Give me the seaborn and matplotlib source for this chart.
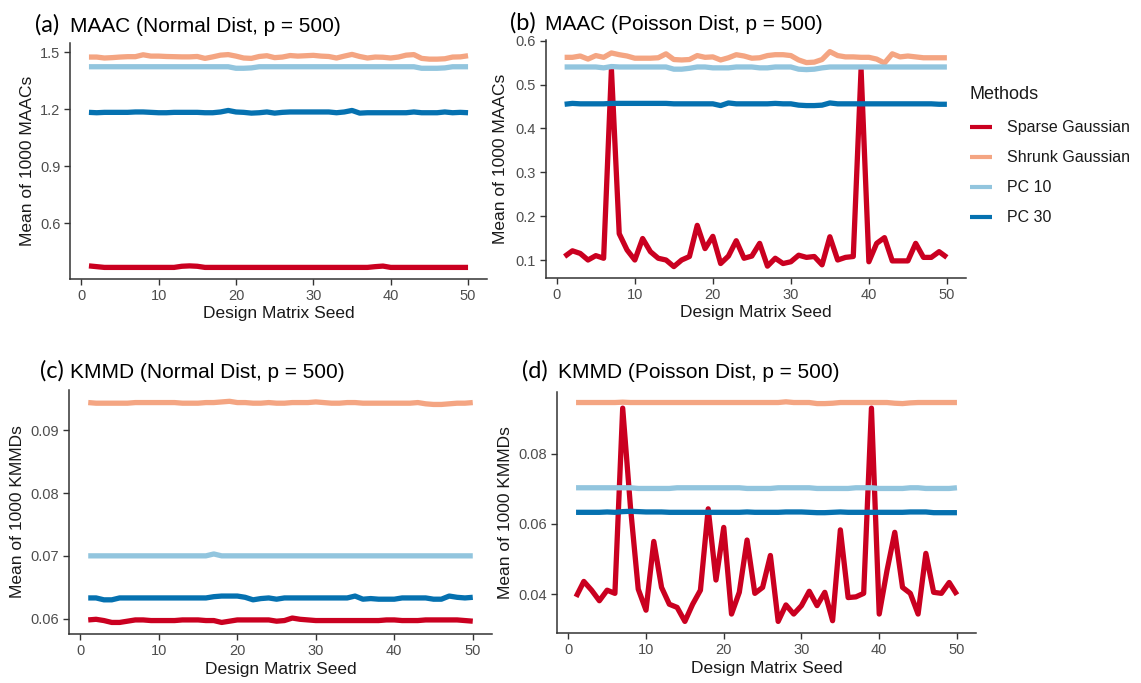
import matplotlib
matplotlib.use("Agg")
import matplotlib.pyplot as plt
import seaborn as sns
import pandas as pd
from matplotlib.ticker import FormatStrFormatter

# ---------------- data ----------------
seeds = list(range(1, 51))
methods = ["Sparse Gaussian", "Shrunk Gaussian", "PC 10", "PC 30"]
colors = ["#CA0020", "#F4A582", "#92C5DE", "#0571B0"]

# (a) MAAC, Normal
a_sparse = [0.376, 0.372, 0.368, 0.368, 0.368, 0.368, 0.368, 0.368, 0.368, 0.368,
            0.368, 0.368, 0.374, 0.376, 0.374, 0.368, 0.368, 0.368, 0.368, 0.368,
            0.368, 0.368, 0.368, 0.368, 0.368, 0.368, 0.368, 0.368, 0.368, 0.368,
            0.368, 0.368, 0.368, 0.368, 0.368, 0.368, 0.368, 0.372, 0.375, 0.368,
            0.368, 0.368, 0.368, 0.368, 0.368, 0.368, 0.368, 0.368, 0.368, 0.368]
a_shrunk = [1.475, 1.475, 1.470, 1.472, 1.475, 1.477, 1.477, 1.487, 1.480, 1.480,
            1.478, 1.477, 1.476, 1.476, 1.478, 1.468, 1.476, 1.485, 1.488, 1.480,
            1.470, 1.468, 1.478, 1.482, 1.472, 1.475, 1.483, 1.480, 1.482, 1.484,
            1.480, 1.478, 1.470, 1.480, 1.489, 1.478, 1.470, 1.475, 1.474, 1.470,
            1.475, 1.485, 1.488, 1.468, 1.464, 1.464, 1.466, 1.475, 1.476, 1.482]
a_pc10 = [1.424, 1.424, 1.424, 1.424, 1.424, 1.424, 1.424, 1.424, 1.424, 1.424,
          1.424, 1.424, 1.424, 1.424, 1.424, 1.424, 1.424, 1.424, 1.424, 1.416,
          1.416, 1.418, 1.424, 1.424, 1.424, 1.424, 1.424, 1.424, 1.424, 1.424,
          1.424, 1.424, 1.424, 1.424, 1.424, 1.424, 1.424, 1.424, 1.424, 1.424,
          1.424, 1.424, 1.424, 1.416, 1.416, 1.416, 1.418, 1.424, 1.424, 1.424]
a_pc30 = [1.184, 1.182, 1.184, 1.184, 1.184, 1.184, 1.186, 1.186, 1.184, 1.182,
          1.182, 1.184, 1.184, 1.184, 1.184, 1.182, 1.182, 1.186, 1.194, 1.186,
          1.184, 1.180, 1.182, 1.186, 1.180, 1.184, 1.186, 1.186, 1.186, 1.186,
          1.186, 1.186, 1.182, 1.186, 1.194, 1.180, 1.182, 1.182, 1.182, 1.182,
          1.182, 1.182, 1.186, 1.182, 1.182, 1.182, 1.186, 1.182, 1.184, 1.182]

# (b) MAAC, Poisson
b_sparse = [0.108, 0.121, 0.115, 0.100, 0.110, 0.104, 0.535, 0.160, 0.123, 0.100,
            0.149, 0.119, 0.104, 0.100, 0.085, 0.100, 0.108, 0.179, 0.126, 0.154,
            0.092, 0.109, 0.144, 0.104, 0.109, 0.138, 0.086, 0.104, 0.092, 0.096,
            0.111, 0.106, 0.108, 0.089, 0.153, 0.100, 0.106, 0.108, 0.535, 0.096,
            0.138, 0.151, 0.098, 0.098, 0.098, 0.138, 0.106, 0.106, 0.119, 0.106]
b_shrunk = [0.562, 0.562, 0.565, 0.558, 0.566, 0.562, 0.572, 0.568, 0.565, 0.560,
            0.560, 0.560, 0.561, 0.570, 0.557, 0.556, 0.557, 0.566, 0.562, 0.563,
            0.556, 0.561, 0.568, 0.565, 0.560, 0.561, 0.566, 0.568, 0.568, 0.566,
            0.556, 0.550, 0.551, 0.557, 0.575, 0.566, 0.563, 0.563, 0.562, 0.562,
            0.558, 0.549, 0.570, 0.563, 0.565, 0.563, 0.561, 0.561, 0.561, 0.561]
b_pc10 = [0.540, 0.540, 0.540, 0.540, 0.540, 0.538, 0.541, 0.540, 0.540, 0.540,
          0.540, 0.540, 0.540, 0.540, 0.535, 0.535, 0.537, 0.540, 0.540, 0.538,
          0.538, 0.538, 0.540, 0.540, 0.540, 0.538, 0.538, 0.540, 0.540, 0.540,
          0.535, 0.534, 0.535, 0.538, 0.540, 0.540, 0.540, 0.540, 0.540, 0.540,
          0.540, 0.540, 0.540, 0.540, 0.540, 0.540, 0.540, 0.540, 0.540, 0.540]
b_pc30 = [0.455, 0.457, 0.456, 0.456, 0.456, 0.456, 0.457, 0.457, 0.457, 0.457,
          0.457, 0.457, 0.457, 0.457, 0.456, 0.456, 0.456, 0.456, 0.456, 0.456,
          0.452, 0.458, 0.456, 0.456, 0.456, 0.456, 0.456, 0.457, 0.456, 0.456,
          0.453, 0.452, 0.452, 0.453, 0.458, 0.456, 0.456, 0.456, 0.456, 0.456,
          0.456, 0.456, 0.456, 0.456, 0.456, 0.456, 0.456, 0.456, 0.455, 0.455]

# (c) KMMD, Normal
c_sparse = [0.0598, 0.0599, 0.0597, 0.0594, 0.0594, 0.0596, 0.0598, 0.0598, 0.0597, 0.0597,
            0.0597, 0.0597, 0.0598, 0.0598, 0.0598, 0.0597, 0.0597, 0.0594, 0.0596, 0.0598,
            0.0598, 0.0598, 0.0598, 0.0598, 0.0596, 0.0597, 0.0601, 0.0599, 0.0598, 0.0597,
            0.0597, 0.0597, 0.0597, 0.0597, 0.0597, 0.0597, 0.0597, 0.0597, 0.0598, 0.0598,
            0.0597, 0.0597, 0.0597, 0.0598, 0.0598, 0.0598, 0.0598, 0.0598, 0.0597, 0.0596]
c_shrunk = [0.0944, 0.0943, 0.0943, 0.0943, 0.0943, 0.0943, 0.0944, 0.0944, 0.0944, 0.0944,
            0.0944, 0.0944, 0.0943, 0.0943, 0.0943, 0.0944, 0.0944, 0.0945, 0.0946, 0.0944,
            0.0944, 0.0943, 0.0943, 0.0944, 0.0943, 0.0943, 0.0944, 0.0944, 0.0944, 0.0945,
            0.0944, 0.0943, 0.0943, 0.0944, 0.0944, 0.0943, 0.0943, 0.0943, 0.0943, 0.0943,
            0.0943, 0.0943, 0.0944, 0.0942, 0.0941, 0.0941, 0.0942, 0.0943, 0.0943, 0.0944]
c_pc10 = [0.0700, 0.0700, 0.0700, 0.0700, 0.0700, 0.0700, 0.0700, 0.0700, 0.0700, 0.0700,
          0.0700, 0.0700, 0.0700, 0.0700, 0.0700, 0.0700, 0.0703, 0.0700, 0.0700, 0.0700,
          0.0700, 0.0700, 0.0700, 0.0700, 0.0700, 0.0700, 0.0700, 0.0700, 0.0700, 0.0700,
          0.0700, 0.0700, 0.0700, 0.0700, 0.0700, 0.0700, 0.0700, 0.0700, 0.0700, 0.0700,
          0.0700, 0.0700, 0.0700, 0.0700, 0.0700, 0.0700, 0.0700, 0.0700, 0.0700, 0.0700]
c_pc30 = [0.0633, 0.0633, 0.0630, 0.0630, 0.0633, 0.0633, 0.0633, 0.0633, 0.0633, 0.0633,
          0.0633, 0.0633, 0.0633, 0.0633, 0.0633, 0.0633, 0.0635, 0.0636, 0.0636, 0.0636,
          0.0634, 0.0630, 0.0632, 0.0633, 0.0631, 0.0633, 0.0633, 0.0633, 0.0633, 0.0633,
          0.0633, 0.0633, 0.0633, 0.0633, 0.0636, 0.0631, 0.0632, 0.0631, 0.0631, 0.0631,
          0.0633, 0.0633, 0.0633, 0.0633, 0.0631, 0.0631, 0.0636, 0.0634, 0.0633, 0.0634]

# (d) KMMD, Poisson
d_sparse = [0.0392, 0.0436, 0.0411, 0.0381, 0.0411, 0.0402, 0.0930, 0.0648, 0.0414, 0.0354,
            0.0550, 0.0419, 0.0371, 0.0362, 0.0322, 0.0371, 0.0411, 0.0643, 0.0440, 0.0590,
            0.0343, 0.0405, 0.0554, 0.0402, 0.0419, 0.0510, 0.0322, 0.0369, 0.0343, 0.0367,
            0.0408, 0.0367, 0.0405, 0.0324, 0.0583, 0.0390, 0.0392, 0.0402, 0.0930, 0.0343,
            0.0467, 0.0576, 0.0419, 0.0402, 0.0343, 0.0516, 0.0405, 0.0402, 0.0433, 0.0398]
d_shrunk = [0.0946, 0.0946, 0.0946, 0.0946, 0.0946, 0.0946, 0.0947, 0.0946, 0.0946, 0.0946,
            0.0946, 0.0946, 0.0946, 0.0946, 0.0946, 0.0946, 0.0946, 0.0946, 0.0946, 0.0946,
            0.0946, 0.0946, 0.0946, 0.0946, 0.0946, 0.0946, 0.0946, 0.0948, 0.0946, 0.0946,
            0.0946, 0.0943, 0.0943, 0.0944, 0.0946, 0.0946, 0.0946, 0.0946, 0.0946, 0.0946,
            0.0946, 0.0944, 0.0943, 0.0945, 0.0946, 0.0946, 0.0946, 0.0946, 0.0946, 0.0946]
d_pc10 = [0.0703, 0.0703, 0.0703, 0.0703, 0.0703, 0.0703, 0.0703, 0.0703, 0.0701, 0.0701,
          0.0701, 0.0701, 0.0701, 0.0703, 0.0703, 0.0703, 0.0703, 0.0703, 0.0703, 0.0703,
          0.0703, 0.0703, 0.0701, 0.0701, 0.0701, 0.0701, 0.0703, 0.0703, 0.0703, 0.0703,
          0.0703, 0.0701, 0.0701, 0.0701, 0.0701, 0.0701, 0.0703, 0.0703, 0.0703, 0.0701,
          0.0701, 0.0701, 0.0701, 0.0703, 0.0703, 0.0701, 0.0701, 0.0701, 0.0701, 0.0703]
d_pc30 = [0.0633, 0.0633, 0.0633, 0.0633, 0.0634, 0.0633, 0.0635, 0.0636, 0.0635, 0.0634,
          0.0634, 0.0634, 0.0633, 0.0633, 0.0633, 0.0633, 0.0633, 0.0633, 0.0633, 0.0633,
          0.0633, 0.0633, 0.0634, 0.0633, 0.0633, 0.0633, 0.0633, 0.0634, 0.0634, 0.0634,
          0.0633, 0.0632, 0.0632, 0.0633, 0.0634, 0.0633, 0.0633, 0.0633, 0.0633, 0.0633,
          0.0633, 0.0633, 0.0633, 0.0634, 0.0634, 0.0634, 0.0632, 0.0632, 0.0632, 0.0632]

panels = [
    ("(a)", "MAAC (Normal Dist, p = 500)", "Mean of 1000 MAACs",
     [a_sparse, a_shrunk, a_pc10, a_pc30], [0.6, 0.9, 1.2, 1.5], "%.1f", (0.307, 1.549)),
    ("(b)", "MAAC (Poisson Dist, p = 500)", "Mean of 1000 MAACs",
     [b_sparse, b_shrunk, b_pc10, b_pc30], [0.1, 0.2, 0.3, 0.4, 0.5, 0.6], "%.1f", (0.059, 0.6015)),
    ("(c)", "KMMD (Normal Dist, p = 500)", "Mean of 1000 KMMDs",
     [c_sparse, c_shrunk, c_pc10, c_pc30], [0.06, 0.07, 0.08, 0.09], "%.2f", (0.05756, 0.0964)),
    ("(d)", "KMMD (Poisson Dist, p = 500)", "Mean of 1000 KMMDs",
     [d_sparse, d_shrunk, d_pc10, d_pc30], [0.04, 0.06, 0.08], "%.2f", (0.0289, 0.0976)),
]
xticks = [0, 10, 20, 30, 40, 50]

# ---------------- layout (figure fractions) ----------------
W, H = 1141, 683
boxes = [  # left, right, top, bottom in px
    (70, 487, 43, 279),
    (545.5, 966, 40, 278),
    (69, 492, 390, 634),
    (557, 976, 392, 633),
]
title_pos = [  # (tag_x, title_x, baseline_y) px
    (35, 70, 31.5),
    (510, 545, 29.5),
    (40, 70, 377.5),
    (522, 558, 378),
]
ylab_x = [-0.083, -0.088, -0.103, -0.105]

sns.set_theme(style="ticks")
plt.rcParams["font.family"] = ["Liberation Sans", "DejaVu Sans"]

fig = plt.figure(figsize=(W / 100, H / 100), dpi=100)
fig.patch.set_facecolor("white")

axes = []
for i, (tag, title, ylab, series, yt, fmt, ylim) in enumerate(panels):
    l, r, t, b = boxes[i]
    ax = fig.add_axes([l / W, 1 - b / H, (r - l) / W, (b - t) / H])
    df = pd.DataFrame({
        "seed": seeds * 4,
        "value": sum(series, []),
        "method": sum([[m] * len(seeds) for m in methods], []),
    })
    sns.lineplot(data=df, x="seed", y="value", hue="method", hue_order=methods,
                 palette=colors, linewidth=3.8, ax=ax, legend=(i == 1),
                 solid_capstyle="butt")
    ax.set_xlim(-1.45, 52.45)
    ax.set_ylim(*ylim)
    ax.set_xticks(xticks)
    ax.set_yticks(yt)
    ax.yaxis.set_major_formatter(FormatStrFormatter(fmt))
    ax.set_xlabel("Design Matrix Seed", fontsize=12.5, color="#1a1a1a")
    ax.set_ylabel(ylab, fontsize=12.5, color="#1a1a1a")
    ax.xaxis.set_label_coords(0.5, -0.115)
    ax.yaxis.set_label_coords(ylab_x[i], 0.5)
    ax.tick_params(axis="both", labelsize=10.5, labelcolor="#4D4D4D",
                   color="#333333", length=4, width=1, direction="out", pad=3)
    sns.despine(ax=ax)
    for s in ["left", "bottom"]:
        ax.spines[s].set_color("#333333")
        ax.spines[s].set_linewidth(1.1)
    ax.set_facecolor("white")
    tx, ttx, by = title_pos[i]
    fig.text(tx / W, 1 - by / H, tag, fontsize=17, family=["Lato", "DejaVu Sans"],
             color="black", va="baseline", ha="left")
    fig.text(ttx / W, 1 - by / H, title, fontsize=15, color="black",
             va="baseline", ha="left")
    axes.append(ax)

# legend
axb = axes[1]
handles, labels = axb.get_legend_handles_labels()
axb.get_legend().remove()
for h in handles:
    h.set_linewidth(3)
leg = fig.legend(handles, labels, title="Methods", loc="upper left",
                 bbox_to_anchor=(970 / W, 1 - 86 / H), frameon=False,
                 fontsize=11.5, title_fontsize=13, borderpad=0, borderaxespad=0,
                 handlelength=1.4, handletextpad=0.9, labelspacing=0.94,
                 alignment="left")
leg._legend_box.sep = 12.5
for txt in leg.get_texts():
    txt.set_color("#1a1a1a")
leg.get_title().set_color("#1a1a1a")

fig.savefig("out.png", dpi=100, facecolor="white")
